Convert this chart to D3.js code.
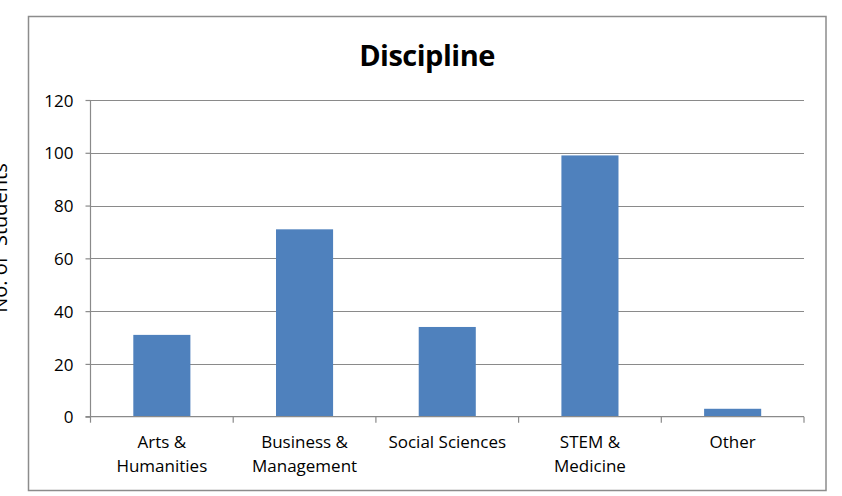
<!DOCTYPE html>
<html>
<head>
<meta charset="utf-8">
<script src="https://cdn.jsdelivr.net/npm/d3@7/dist/d3.min.js"></script>
<style>
  body { margin: 0; background: #fff; }
  svg text { font-family: "Open Sans", sans-serif; fill: #000; }
</style>
</head>
<body>
<div id="chart"></div>
<script>
const categories = [['Arts &', 'Humanities'], ['Business &', 'Management'], ['Social Sciences'], ['STEM &', 'Medicine'], ['Other']];
const students = [31, 71, 34, 99, 3];
const yTicks = [0, 20, 40, 60, 80, 100, 120];

const W = 842;
const H = 496;
const margin = { top: 100, left: 90.5, bottom: 79, right: 38 };
const width = 804 - margin.left;
const height = 416.7 - margin.top;

const svg = d3.select('#chart').append('svg')
    .attr('width', W)
    .attr('height', H);

// outer chart box
svg.append('rect')
    .attr('x', 28.5)
    .attr('y', 16.5)
    .attr('width', 826 - 28.5)
    .attr('height', 490.5 - 16.5)
    .attr('fill', 'none')
    .attr('stroke', '#8c8c8c')
    .attr('stroke-width', 1.5);

svg.append('text')
    .attr('x', 427)
    .attr('y', 66)
    .attr('text-anchor', 'middle')
    .style('font-size', '29px')
    .style('font-weight', 'bold')
    .style('letter-spacing', '-0.5px')
    .text('Discipline');

svg.append('text')
    .attr('transform', 'translate(7,238) rotate(-90)')
    .attr('text-anchor', 'middle')
    .attr('xml:space', 'preserve')
    .style('font-size', '20px')
    .text('No. of  Students');

const g = svg.append('g')
    .attr('transform', `translate(${margin.left},${margin.top})`);

const x = d3.scaleBand()
    .domain(d3.range(categories.length))
    .range([0, width]);

const y = d3.scaleLinear()
    .domain([0, 120])
    .range([height, 0]);

// gridlines
g.append('g').selectAll('line').data(yTicks.filter(d => d > 0))
  .enter().append('line')
    .attr('x1', 0)
    .attr('x2', width)
    .attr('y1', d => Math.round(y(d)) + 0.5)
    .attr('y2', d => Math.round(y(d)) + 0.5)
    .attr('stroke', '#8a8a8a')
    .attr('stroke-width', 1.2);

const barW = x.bandwidth() * 0.4;
g.append('g').selectAll('rect').data(students)
  .enter().append('rect')
    .attr('x', (d, i) => x(i) + (x.bandwidth() - barW) / 2)
    .attr('y', d => y(d))
    .attr('width', barW)
    .attr('height', d => height - y(d))
    .attr('fill', '#4f81bd');

const yAxis = d3.axisLeft(y)
    .tickValues(yTicks)
    .tickSize(5)
    .tickPadding(12);

const yAxisG = g.append('g').call(yAxis);
yAxisG.selectAll('text').style('font-size', '17px').attr('dy', '0.36em');
yAxisG.selectAll('line, path').attr('stroke', '#8a8a8a').attr('stroke-width', 1.2);
yAxisG.select('path').attr('d', `M-5,${height}H0V0H-5`).attr('d', `M0,${height}V0`);

// x axis
const xAxisG = g.append('g').attr('transform', `translate(0,${height})`);
xAxisG.append('line')
    .attr('x1', -5).attr('x2', width)
    .attr('stroke', '#8a8a8a').attr('stroke-width', 1.2);
xAxisG.selectAll('.tick').data(d3.range(categories.length + 1))
  .enter().append('line')
    .attr('class', 'tick')
    .attr('x1', d => d * x.step())
    .attr('x2', d => d * x.step())
    .attr('y1', 0)
    .attr('y2', 6)
    .attr('stroke', '#8a8a8a').attr('stroke-width', 1.2);

const lbl = xAxisG.selectAll('.lbl').data(categories)
  .enter().append('text')
    .attr('class', 'lbl')
    .attr('text-anchor', 'middle')
    .style('font-size', '17px');
lbl.selectAll('tspan').data((d, i) => d.map(t => ({ t, i })))
  .enter().append('tspan')
    .attr('x', d => x(d.i) + x.bandwidth() / 2)
    .attr('y', (d, j) => 31 + j * 24.5)
    .text(d => d.t);
</script>
</body>
</html>
